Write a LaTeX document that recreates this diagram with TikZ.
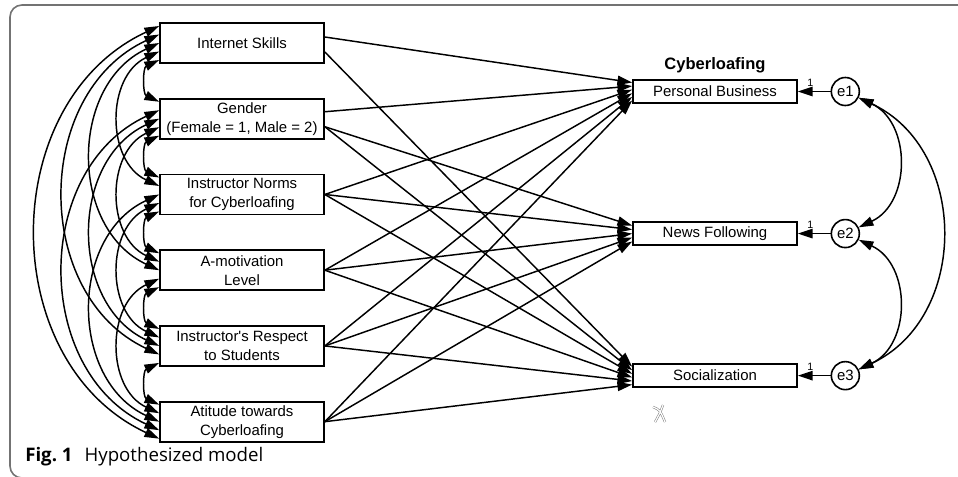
\documentclass[tikz,border=0pt]{standalone}
\usepackage{fontspec}
\setmainfont{Liberation Sans}[Ligatures=TeXOff]
\newfontfamily\figcapfont{Open Sans}
\usetikzlibrary{arrows.meta,calc,positioning}

\tikzset{
  >={Triangle[length=11pt,width=7pt]},
  exo/.style={draw,line width=1.3pt,minimum width=123pt,minimum height=30pt,
    align=center,inner sep=1pt,font=\fontsize{11.2}{14.3}\selectfont},
  endo/.style={exo,minimum height=17.25pt},
  err/.style={draw,circle,line width=1.2pt,minimum size=21pt,inner sep=0pt,
    font=\fontsize{11.2}{13}\selectfont},
  reg/.style={->,line width=1.1pt},
  cov/.style={<->,line width=1.1pt,bend right=65,looseness=1.12},
  ecov/.style={<->,line width=1.1pt,bend left=65,looseness=1.15},
  one/.style={above=2pt,pos=0.62,inner sep=1pt,font=\fontsize{8}{9}\selectfont},
  frame/.style={draw=black!55,line width=1.2pt,rounded corners=9pt},
}

\begin{document}
\begin{tikzpicture}[x=0.75pt,y=-0.75pt]
  \useasboundingbox (0,0) rectangle (958,476);
  \draw[frame] (962,5) -- (10,5) -- (10,478) -- (962,478);

  % exogenous variables
  \node [exo] (is) at (242,43) {Internet Skills};
  \node [exo,below=25.5pt of is] (gen) {Gender\\(Female = 1, Male = 2)};
  \node [exo,below=25.5pt of gen] (norm) {Instructor Norms\\for Cyberloafing};
  \node [exo,below=25.5pt of norm] (amot) {A-motivation\\Level};
  \node [exo,below=25.5pt of amot] (resp) {Instructor's Respect\\to Students};
  \node [exo,below=25.5pt of resp] (att) {Atitude towards\\Cyberloafing};

  % cyberloafing
  \node [endo] (pb) at (715,91.5) {Personal Business};
  \node [endo,below=88pt of pb] (nf) {News Following};
  \node [endo,below=88pt of nf] (soc) {Socialization};
  \node [above=1pt of pb,font=\fontsize{12.4}{14}\selectfont\bfseries] (cyb) {Cyberloafing};

  \node [err,right=24.5pt of pb] (e1) {e1};
  \node [err,right=24.5pt of nf] (e2) {e2};
  \node [err,right=24.5pt of soc] (e3) {e3};

  \path (e1) edge[reg] node[one]{1} (pb);
  \path (e2) edge[reg] node[one]{1} (nf);
  \path (e3) edge[reg] node[one]{1} (soc);
  \path (e1) edge[ecov] (e2);
  \path (e2) edge[ecov] (e3);
  \path (e1) edge[ecov] (e3);

  % paths
  \path ($(is.east)+(0,-6)$) edge[reg] ($(pb.west)+(0,-9)$);
  \path ($(is.east)+(0,9)$) edge[reg] ($(soc.west)+(0,-9)$);
  \path ($(gen.east)+(0,-7)$) edge[reg] ($(pb.west)+(0,-5.4)$);
  \path ($(gen.east)+(0,8)$) edge[reg] ($(nf.west)+(0,-8)$)
                             edge[reg] ($(soc.west)+(0,-5.4)$);
  \path (norm.east) edge[reg] ($(pb.west)+(0,-1.8)$)
                    edge[reg] ($(nf.west)+(0,-4)$)
                    edge[reg] ($(soc.west)+(0,-1.8)$);
  \path (amot.east) edge[reg] ($(pb.west)+(0,1.8)$)
                    edge[reg] (nf.west)
                    edge[reg] ($(soc.west)+(0,1.8)$);
  \path (resp.east) edge[reg] ($(pb.west)+(0,5.4)$)
                    edge[reg] ($(nf.west)+(0,4)$)
                    edge[reg] ($(soc.west)+(0,5.4)$);
  \path (att.east) edge[reg] ($(pb.west)+(0,9)$)
                   edge[reg] ($(nf.west)+(0,8)$)
                   edge[reg] ($(soc.west)+(0,9)$);

  % covariances
  \path ($(is.west)+(0,17)$) edge[cov] ($(gen.west)+(0,-17)$);
  \path ($(is.west)+(0,8.5)$) edge[cov] ($(norm.west)+(0,-8.5)$);
  \path (is.west) edge[cov] (amot.west);
  \path ($(is.west)+(0,-8.5)$) edge[cov] ($(resp.west)+(0,8.5)$);
  \path ($(is.west)+(0,-17)$) edge[cov] ($(att.west)+(0,17)$);
  \path ($(gen.west)+(0,17)$) edge[cov] ($(norm.west)+(0,-17)$);
  \path ($(gen.west)+(0,8.5)$) edge[cov] ($(amot.west)+(0,-8.5)$);
  \path (gen.west) edge[cov] (resp.west);
  \path ($(gen.west)+(0,-8.5)$) edge[cov] ($(att.west)+(0,8.5)$);
  \path ($(norm.west)+(0,17)$) edge[cov] ($(amot.west)+(0,-17)$);
  \path ($(norm.west)+(0,8.5)$) edge[cov] ($(resp.west)+(0,-8.5)$);
  \path (norm.west) edge[cov] (att.west);
  \path ($(amot.west)+(0,17)$) edge[cov] ($(resp.west)+(0,-17)$);
  \path ($(amot.west)+(0,8.5)$) edge[cov] ($(att.west)+(0,-8.5)$);
  \path ($(resp.west)+(0,17)$) edge[cov] ($(att.west)+(0,-17)$);

  % stray mark
  \draw[black!50,double=white,double distance=0.9pt,line width=0.4pt]
    (653,407) .. controls (660,410) .. (665,422)
    (663,405) .. controls (660,413) .. (655,422);

  \node [anchor=base west,inner sep=0pt,font=\figcapfont\fontsize{14}{16}\selectfont] (cap) at (25,461)
    {\textbf{Fig.~1}\hspace{9pt}Hypothesized model};
\end{tikzpicture}
\end{document}
